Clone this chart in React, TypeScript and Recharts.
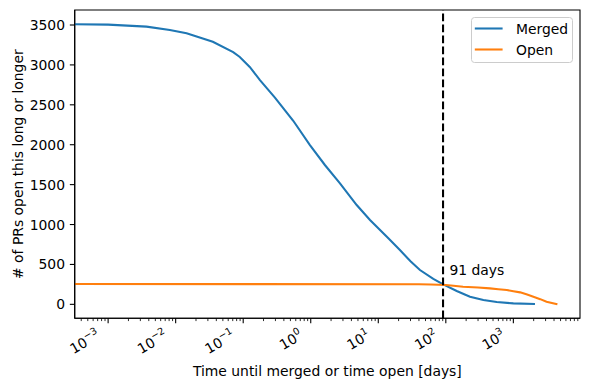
import {
  Label,
  Legend,
  Line,
  LineChart,
  ReferenceArea,
  ReferenceDot,
  ReferenceLine,
  XAxis,
  YAxis,
} from 'recharts';

// Survival-style counts: how many PRs stayed open at least this long.
const mergedDays = [
  3.2e-4, 1e-3, 3.7e-3, 8.2e-3, 1.45e-2, 3.55e-2, 7.1e-2, 8.9e-2, 0.125, 0.177,
  0.295, 0.551, 0.973, 1.62, 2.71, 4.79, 7.54, 14.1, 20.9, 30, 41.4, 65.3, 90,
  145, 228, 360, 567, 1000, 2090,
];
const mergedCount = [
  3510, 3505, 3480, 3438, 3396, 3290, 3160, 3100, 2975, 2810, 2590, 2300, 1996,
  1746, 1516, 1244, 1056, 827, 680, 540, 430, 318, 254, 167, 95, 54, 29, 12, 4,
];

const openDays = [
  3.2e-4, 40, 60, 100, 130, 180, 300, 450, 600, 800, 1000, 1260, 1600, 1980,
  2500, 3100, 4000, 4490,
];
const openCount = [
  254, 252, 248, 242, 232, 221, 210, 200, 190, 179, 165, 150, 122, 95, 65, 33,
  10, 0,
];

const X_MAJOR = [1e-3, 1e-2, 1e-1, 1, 10, 100, 1000];
const X_MINOR_STEPS = [2, 3, 4, 5, 6, 7, 8, 9];
const Y_TICKS = [0, 500, 1000, 1500, 2000, 2500, 3000, 3500];

const CUTOFF_DAYS = 91;
const CUTOFF_TEXT = '91 days';
const CUTOFF_TEXT_AT = { x: 113, y: 367 };

const X_DOMAIN: [number, number] = [3.2e-4, 9.7e3];
const Y_DOMAIN: [number, number] = [-175, 3688];

const FONT = '"DejaVu Sans", sans-serif';
const FS = 13.9;

const mergedData = mergedDays.map((days, i) => ({ days, count: mergedCount[i] }));
const openData = openDays.map((days, i) => ({ days, count: openCount[i] }));

const xTicks = [1e-4, ...X_MAJOR]
  .flatMap((m) => [m, ...X_MINOR_STEPS.map((s) => s * m)])
  .filter((v) => v >= X_DOMAIN[0] && v <= X_DOMAIN[1])
  .sort((a, b) => a - b);

function XTick(props: any) {
  const { x, y, payload } = props;
  const lg = Math.log10(payload.value);
  const exp = Math.round(lg);
  const major = Math.abs(lg - exp) < 1e-6;
  return (
    <g>
      <line
        x1={x}
        x2={x}
        y1={y}
        y2={y + (major ? 4.86 : 2.78)}
        stroke="#000"
        strokeWidth={major ? 1.1 : 0.83}
      />
      {major && (
        <text
          transform={`translate(${x - 7},${y + 20}) rotate(-30)`}
          textAnchor="end"
          fontFamily={FONT}
          fontSize={FS}
          fill="#000"
        >
          10
          <tspan dy={-6.5} fontSize={9.7}>
            {exp < 0 ? `\u2212${-exp}` : String(exp)}
          </tspan>
        </text>
      )}
    </g>
  );
}

function YTick(props: any) {
  const { x, y, payload } = props;
  return (
    <g>
      <line x1={x} x2={x - 4.86} y1={y} y2={y} stroke="#000" strokeWidth={1.1} />
      <text
        x={x - 9.7}
        y={y}
        dy="0.36em"
        textAnchor="end"
        fontFamily={FONT}
        fontSize={FS}
        fill="#000"
      >
        {payload.value}
      </text>
    </g>
  );
}

function LegendBox(props: any) {
  const items = (props.payload || []) as any[];
  return (
    <svg width={103} height={47} style={{ display: 'block' }}>
      <rect
        x={0.5}
        y={0.5}
        width={101}
        height={45}
        rx={3}
        fill="rgba(255,255,255,0.8)"
        stroke="#cccccc"
      />
      {items.map((it, i) => (
        <g key={it.value}>
          <line
            x1={3.8}
            x2={31.6}
            y1={11.5 + i * 21}
            y2={11.5 + i * 21}
            stroke={it.color}
            strokeWidth={2.08}
          />
          <text
            x={45}
            y={11.5 + i * 21}
            dy="0.36em"
            fontFamily={FONT}
            fontSize={FS}
            fill="#000"
          >
            {it.value}
          </text>
        </g>
      ))}
    </svg>
  );
}

export default function App() {
  return (
    <div style={{ width: 590, height: 390, background: '#fff' }}>
      <style>{'body{margin:0}'}</style>
      <LineChart
        width={590}
        height={390}
        margin={{ top: 10, right: 10, bottom: 0, left: 0 }}
      >
        <XAxis
          dataKey="days"
          type="number"
          scale="log"
          domain={X_DOMAIN}
          allowDataOverflow
          ticks={xTicks}
          interval={0}
          tick={<XTick />}
          tickLine={false}
          tickSize={0}
          tickMargin={0}
          height={71.7}
          axisLine={{ stroke: '#000', strokeWidth: 1.1 }}
        >
          <Label
            content={(p: any) => (
              <text
                x={p.viewBox.x + p.viewBox.width / 2}
                y={p.viewBox.y + 58}
                textAnchor="middle"
                fontFamily={FONT}
                fontSize={FS}
                fill="#000"
              >
                Time until merged or time open [days]
              </text>
            )}
          />
        </XAxis>
        <YAxis
          type="number"
          domain={Y_DOMAIN}
          allowDataOverflow
          ticks={Y_TICKS}
          interval={0}
          tick={<YTick />}
          tickLine={false}
          tickSize={0}
          tickMargin={0}
          width={74.7}
          axisLine={{ stroke: '#000', strokeWidth: 1.1 }}
        >
          <Label
            content={(p: any) => {
              const cx = p.viewBox.x + 18.5;
              const cy = p.viewBox.y + p.viewBox.height / 2;
              return (
                <text
                  x={cx}
                  y={cy}
                  transform={`rotate(-90,${cx},${cy})`}
                  textAnchor="middle"
                  dominantBaseline="central"
                  fontFamily={FONT}
                  fontSize={FS}
                  fill="#000"
                >
                  # of PRs open this long or longer
                </text>
              );
            }}
          />
        </YAxis>
        <ReferenceArea
          x1={X_DOMAIN[0]}
          x2={X_DOMAIN[1]}
          y1={Y_DOMAIN[0]}
          y2={Y_DOMAIN[1]}
          fill="none"
          stroke="#000"
          strokeWidth={1.1}
        />
        <Line
          data={mergedData}
          dataKey="count"
          name="Merged"
          type="linear"
          stroke="#1f77b4"
          strokeWidth={2.08}
          dot={false}
          isAnimationActive={false}
        />
        <Line
          data={openData}
          dataKey="count"
          name="Open"
          type="linear"
          stroke="#ff7f0e"
          strokeWidth={2.08}
          dot={false}
          isAnimationActive={false}
        />
        <ReferenceLine
          x={CUTOFF_DAYS}
          stroke="#000"
          strokeWidth={2.08}
          strokeDasharray="7.7 3.3"
        />
        <ReferenceDot
          x={CUTOFF_TEXT_AT.x}
          y={CUTOFF_TEXT_AT.y}
          r={0}
          shape={(p: any) => (
            <text x={p.cx} y={p.cy} fontFamily={FONT} fontSize={FS} fill="#000">
              {CUTOFF_TEXT}
            </text>
          )}
        />
        <Legend
          layout="horizontal"
          verticalAlign="middle"
          align="center"
          content={<LegendBox />}
          wrapperStyle={{ position: 'absolute', left: 471, top: 17, width: 'auto', height: 'auto' }}
        />
      </LineChart>
    </div>
  );
}
